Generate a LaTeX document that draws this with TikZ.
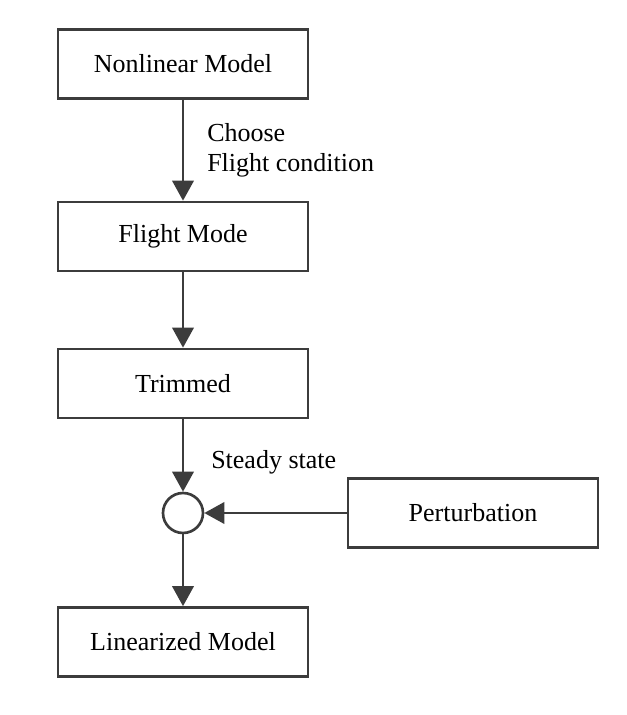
\documentclass[tikz,border=0pt]{standalone}
\usepackage{fontspec}
\setmainfont{Liberation Serif}
\usetikzlibrary{arrows.meta}
\definecolor{linegray}{HTML}{3C3C3C}

\begin{document}
\begin{tikzpicture}[x=0.75pt,y=-0.75pt,
  block/.style={draw=linegray,line width=2pt,minimum width=187.5pt,minimum height=51.75pt,inner sep=0pt},
  sum/.style={draw=linegray,line width=2pt,circle,minimum size=30pt,inner sep=0pt},
  flow/.style={draw=linegray,line width=2pt,-{Triangle[length=15pt,width=16pt]}},
  every node/.style={font=\fontsize{19.5}{22.5}\selectfont}]
\useasboundingbox (0,0) rectangle (627,715);

% Blocks
\node[block] (nonlin) at (183,64) {Nonlinear Model};
\node[block] (mode) at (183,236.5) {Flight Mode};
\node[block] (trim) at (183,383.5) {Trimmed};
\node[sum] (junc) at (183,513) {};
\node[block] (pert) at (473,513) {Perturbation};
\node[block] (linmod) at (183,642) {Linearized Model};

% Labels
\node[anchor=west,align=left,inner sep=0pt] (cond) at (207,150) {Choose\\Flight condition};
\node[anchor=west,inner sep=0pt] (steady) at (211,462) {Steady state};

% Connectors
\draw[flow] (nonlin) -- (mode);
\draw[flow] (mode) -- (trim);
\draw[flow] (trim) -- (junc);
\draw[flow] (pert) -- (junc);
\draw[flow] (junc) -- (linmod);

\end{tikzpicture}
\end{document}
